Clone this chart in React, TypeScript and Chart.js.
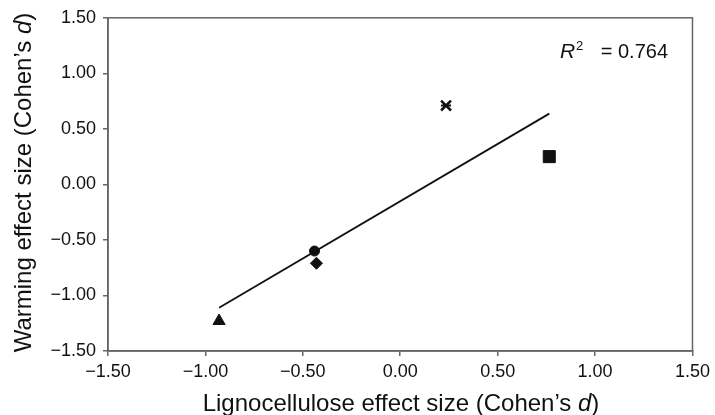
import React, { useEffect, useRef } from "react";
import { Chart, registerables } from "chart.js";

Chart.register(...registerables);

// ---- data ----
const axisTicks = [-1.5, -1.0, -0.5, 0.0, 0.5, 1.0, 1.5];
const starPoint = [{ x: 0.235, y: 0.71 }];
const squarePoint = [{ x: 0.765, y: 0.25 }];
const circlePoint = [{ x: -0.44, y: -0.6 }];
const diamondPoint = [{ x: -0.43, y: -0.71 }];
const trianglePoint = [{ x: -0.93, y: -1.23 }];
const trendLine = [
  { x: -0.93, y: -1.11 },
  { x: 0.765, y: 0.637 },
];
const xTitleParts = ["Lignocellulose effect size (Cohen\u2019s ", "d", ")"];
const yTitleParts = ["Warming effect size (Cohen\u2019s ", "d", ")"];
const rSquaredLabel = { r: "R", sup: "2", rest: " = 0.764" };

const FONT = "'Liberation Sans', Arial, Helvetica, sans-serif";
const fmt = (v: number) => {
  const s = Math.abs(v).toFixed(2);
  return v < 0 ? "\u2212" + s : s;
};

function drawParts(ctx: CanvasRenderingContext2D, parts: string[], size: number, cx: number, baseline: number) {
  const fonts = [`${size}px ${FONT}`, `italic ${size}px ${FONT}`, `${size}px ${FONT}`];
  let total = 0;
  const widths = parts.map((p, i) => {
    ctx.font = fonts[i];
    const w = ctx.measureText(p).width;
    total += w;
    return w;
  });
  let x = cx - total / 2;
  ctx.textBaseline = "alphabetic";
  ctx.textAlign = "left";
  parts.forEach((p, i) => {
    ctx.font = fonts[i];
    ctx.fillText(p, x, baseline);
    x += widths[i];
  });
}

const decorPlugin = {
  id: "decor",
  afterDraw(chart: any) {
    const { ctx, chartArea } = chart;
    ctx.save();
    ctx.strokeStyle = "#666";
    ctx.lineWidth = 1.5;
    ctx.strokeRect(chartArea.left, chartArea.top, chartArea.right - chartArea.left, chartArea.bottom - chartArea.top);
    ctx.fillStyle = "#111";
    // x title
    drawParts(ctx, xTitleParts, 24, 401, 411);
    // y title
    ctx.save();
    ctx.translate(31, 182.5);
    ctx.rotate(-Math.PI / 2);
    drawParts(ctx, yTitleParts, 24, 0, 0);
    ctx.restore();
    // R^2 label
    const left = 560;
    const right = 668;
    const base = 58;
    ctx.textBaseline = "alphabetic";
    ctx.textAlign = "left";
    ctx.font = `italic 21px ${FONT}`;
    ctx.fillText(rSquaredLabel.r, left, base);
    ctx.font = `13px ${FONT}`;
    ctx.fillText(rSquaredLabel.sup, left + 16, base - 8);
    ctx.font = `20px ${FONT}`;
    ctx.textAlign = "right";
    ctx.fillText(rSquaredLabel.rest, right, base);
    ctx.restore();
  },
};

export default function App() {
  const ref = useRef<HTMLCanvasElement | null>(null);
  useEffect(() => {
    if (!ref.current) return;
    const black = "#111";
    const mk = (data: any, style: string, radius: number, extra: any = {}) => ({
      type: "scatter",
      data,
      pointStyle: style,
      pointRadius: radius,
      pointBackgroundColor: black,
      pointBorderColor: black,
      pointBorderWidth: 1,
      showLine: false,
      ...extra,
    });
    const axisCommon = (isX: boolean) => ({
      type: "linear",
      min: -1.5,
      max: 1.5,
      afterBuildTicks: (scale: any) => {
        scale.ticks = axisTicks.map((v) => ({ value: v }));
      },
      afterFit: (scale: any) => {
        if (isX) scale.height = 64;
        else scale.width = 108;
      },
      ticks: {
        color: "#111",
        font: { family: FONT, size: 18 },
        padding: isX ? 5 : 7,
        maxRotation: 0,
        callback: (v: any) => fmt(Number(v)),
      },
      grid: {
        display: true,
        drawOnChartArea: false,
        drawTicks: true,
        tickLength: 5,
        color: "#666",
        lineWidth: 1.5,
      },
      border: { display: true, color: "#666", width: 1.5 },
    });
    const chart = new Chart(ref.current, {
      type: "scatter",
      data: {
        datasets: [
          {
            type: "line",
            data: trendLine,
            borderColor: black,
            borderWidth: 1.8,
            pointRadius: 0,
            fill: false,
            tension: 0,
          } as any,
          mk(starPoint, "crossRot", 7, { pointBorderWidth: 2.5 }),
          mk(starPoint, "line", 5, { pointBorderWidth: 2 }),
          mk(squarePoint, "rect", 8.5),
          mk(circlePoint, "circle", 5),
          mk(diamondPoint, "rectRot", 6),
          mk(trianglePoint, "triangle", 7),
        ] as any,
      },
      options: {
        responsive: false,
        animation: false,
        devicePixelRatio: 1,
        layout: { padding: { top: 14, right: 19, left: 0, bottom: 0 } },
        plugins: { legend: { display: false }, tooltip: { enabled: false } },
        scales: { x: axisCommon(true), y: axisCommon(false) } as any,
      },
      plugins: [decorPlugin],
    } as any);
    return () => chart.destroy();
  }, []);
  return (
    <div style={{ position: "fixed", left: 0, top: 0, width: 715, height: 415, background: "#fff" }}>
      <canvas ref={ref} width={715} height={415} />
    </div>
  );
}
